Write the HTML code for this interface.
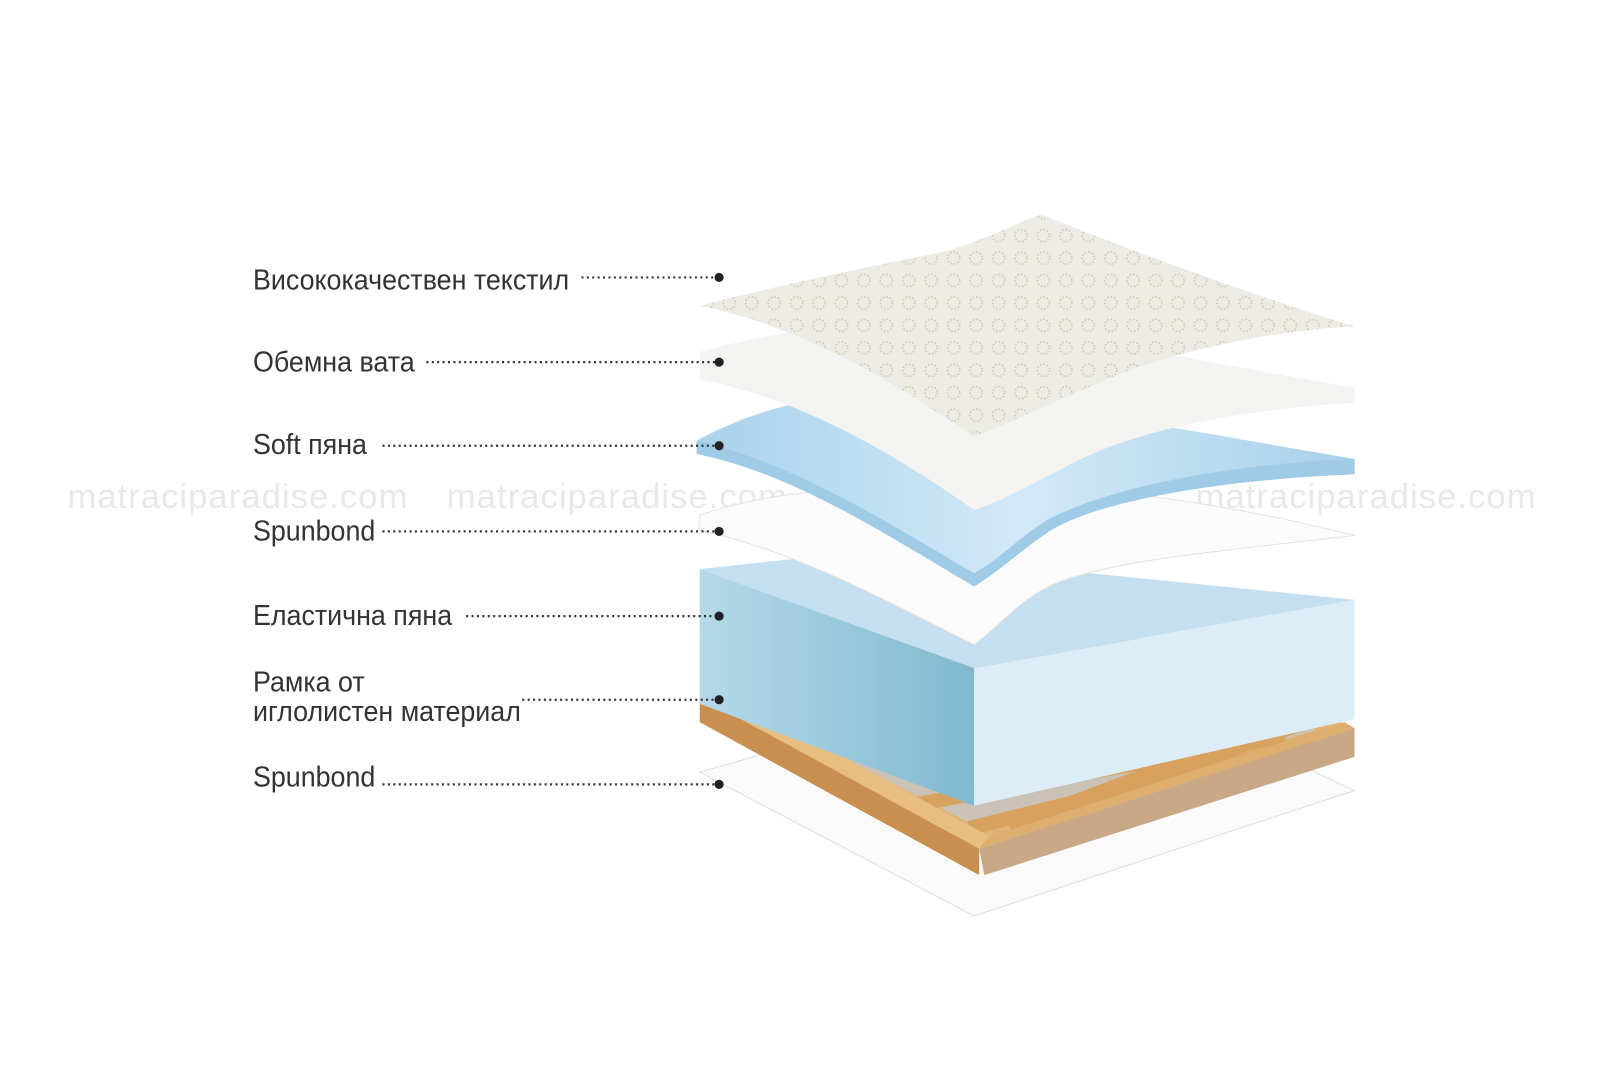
<!DOCTYPE html>
<html><head><meta charset="utf-8"><style>
html,body{margin:0;padding:0;background:#fff;width:1600px;height:1067px;overflow:hidden}
svg{display:block}
.lb{font-family:"Liberation Sans",sans-serif;font-size:28px;fill:#333}
.wm{font-family:"Liberation Sans",sans-serif;font-size:34px;fill:#e8e8e8;letter-spacing:1px}
</style></head><body>
<svg width="1600" height="1067" viewBox="0 0 1600 1067" xmlns="http://www.w3.org/2000/svg">
<defs>
<linearGradient id="fl" x1="0" x2="1" y1="0" y2="0"><stop offset="0" stop-color="#b5d9ea"/><stop offset="1" stop-color="#80b9cf"/></linearGradient>
<linearGradient id="bl" x1="0" x2="1" y1="0" y2="0"><stop offset="0" stop-color="#a9d2ec"/><stop offset="0.5" stop-color="#d2e9f8"/><stop offset="1" stop-color="#a7d0ea"/></linearGradient>
<pattern id="dots" width="22" height="22" patternUnits="userSpaceOnUse"><circle cx="11" cy="11" r="6" fill="none" stroke="#cfc4a8" stroke-width="1.5" stroke-dasharray="1.5 2"/></pattern>
</defs>
<g transform="scale(1.02)">
<text class="wm" x="66" y="498">matraciparadise.com</text>
<text class="wm" x="438" y="498">matraciparadise.com</text>
<text class="wm" x="802" y="498">matraciparadise.com</text>
<text class="wm" x="1172" y="498">matraciparadise.com</text>
<polygon points="686,757 1060,650 1328,775 955,898" fill="#fafafa" stroke="#ddd"/>
<polygon points="686,683 1060,600 1328,714 960,832" fill="#e1b274"/>
<polygon points="726,690 1060,615 1290,716 960,812" fill="#c9c2b5"/>
<g stroke="#d9a15e" stroke-width="14">
<line x1="760" y1="690" x2="1110" y2="628"/>
<line x1="990" y1="810" x2="1250" y2="712"/><line x1="1050" y1="790" x2="1275" y2="710"/>
<line x1="890" y1="790" x2="1260" y2="722"/><line x1="950" y1="812" x2="1290" y2="728"/>
</g>
<polygon points="686,683 960,832 960,858 686,708" fill="#c88f4f"/>
<polygon points="686,683 712,680 970,820 960,832" fill="#e8bd80"/>
<polygon points="960,832 1328,714 1328,742 965,858" fill="#c8a886"/>
<polygon points="960,832 970,820 1318,708 1328,714" fill="#deae6f"/>
<polygon points="686,558 955,655 955,790 686,690" fill="url(#fl)"/>
<polygon points="955,655 1328,588 1328,705 955,790" fill="#dcedf8"/>
<polygon points="686,558 850,540 1328,588 955,655" fill="#c3dff0"/>
<path d="M686,505 C760,480 840,478 880,478 C1000,470 1150,480 1328,525 C1200,540 1100,548 1040,570 C1000,585 980,615 955,632 C870,590 780,540 686,520 Z" fill="#fbfbfb" stroke="#e2e2e2"/>
<path d="M683,432 C720,412 760,398 800,392 C960,380 1150,420 1328,450 L1328,465 C1200,470 1080,490 1030,520 C1000,540 980,560 955,575 C870,525 780,465 683,445 Z" fill="url(#bl)"/>
<path d="M683,432 C780,455 870,512 955,562 C985,545 1000,525 1030,508 C1090,478 1200,455 1328,450 L1328,465 C1200,470 1080,490 1030,520 C1000,540 980,560 955,575 C870,525 780,465 683,445 Z" fill="#9fcbe6"/>
<path d="M686,345 C760,325 820,318 870,318 C1000,315 1150,350 1328,380 L1328,395 C1230,400 1120,420 1060,450 C1010,475 985,490 955,500 C870,440 780,390 686,372 Z" fill="#f3f3f1"/>
<path d="M686,300 C760,280 850,262 920,248 C960,238 990,222 1020,210 C1120,250 1230,290 1328,320 C1240,325 1150,345 1090,370 C1030,395 990,415 955,428 C870,370 780,318 686,300 Z" fill="#ecebe4"/>
<path d="M686,300 C760,280 850,262 920,248 C960,238 990,222 1020,210 C1120,250 1230,290 1328,320 C1240,325 1150,345 1090,370 C1030,395 990,415 955,428 C870,370 780,318 686,300 Z" fill="url(#dots)"/>
<g transform="translate(248,0) scale(0.94,1)">
<text class="lb" x="0" y="284">Висококачествен текстил</text>
<text class="lb" x="0" y="364">Обемна вата</text>
<text class="lb" x="0" y="445">Soft пяна</text>
<text class="lb" x="0" y="530">Spunbond</text>
<text class="lb" x="0" y="613">Еластична пяна</text>
<text class="lb" x="0" y="678">Рамка от</text>
<text class="lb" x="0" y="707">иглолистен материал</text>
<text class="lb" x="0" y="771">Spunbond</text>
</g>
<g stroke="#333" stroke-width="2.2" stroke-dasharray="2 3.3">
<line x1="570" y1="272" x2="702" y2="272"/>
<line x1="418" y1="355" x2="702" y2="355"/>
<line x1="375" y1="437" x2="702" y2="437"/>
<line x1="375" y1="521" x2="702" y2="521"/>
<line x1="457" y1="604" x2="702" y2="604"/>
<line x1="512" y1="686" x2="702" y2="686"/>
<line x1="375" y1="769" x2="702" y2="769"/>
</g>
<g fill="#222">
<circle cx="705" cy="272" r="4.5"/><circle cx="705" cy="355" r="4.5"/><circle cx="705" cy="437" r="4.5"/>
<circle cx="705" cy="521" r="4.5"/><circle cx="705" cy="604" r="4.5"/><circle cx="705" cy="686" r="4.5"/><circle cx="705" cy="769" r="4.5"/>
</g>
</g>
</svg>
</body></html>
